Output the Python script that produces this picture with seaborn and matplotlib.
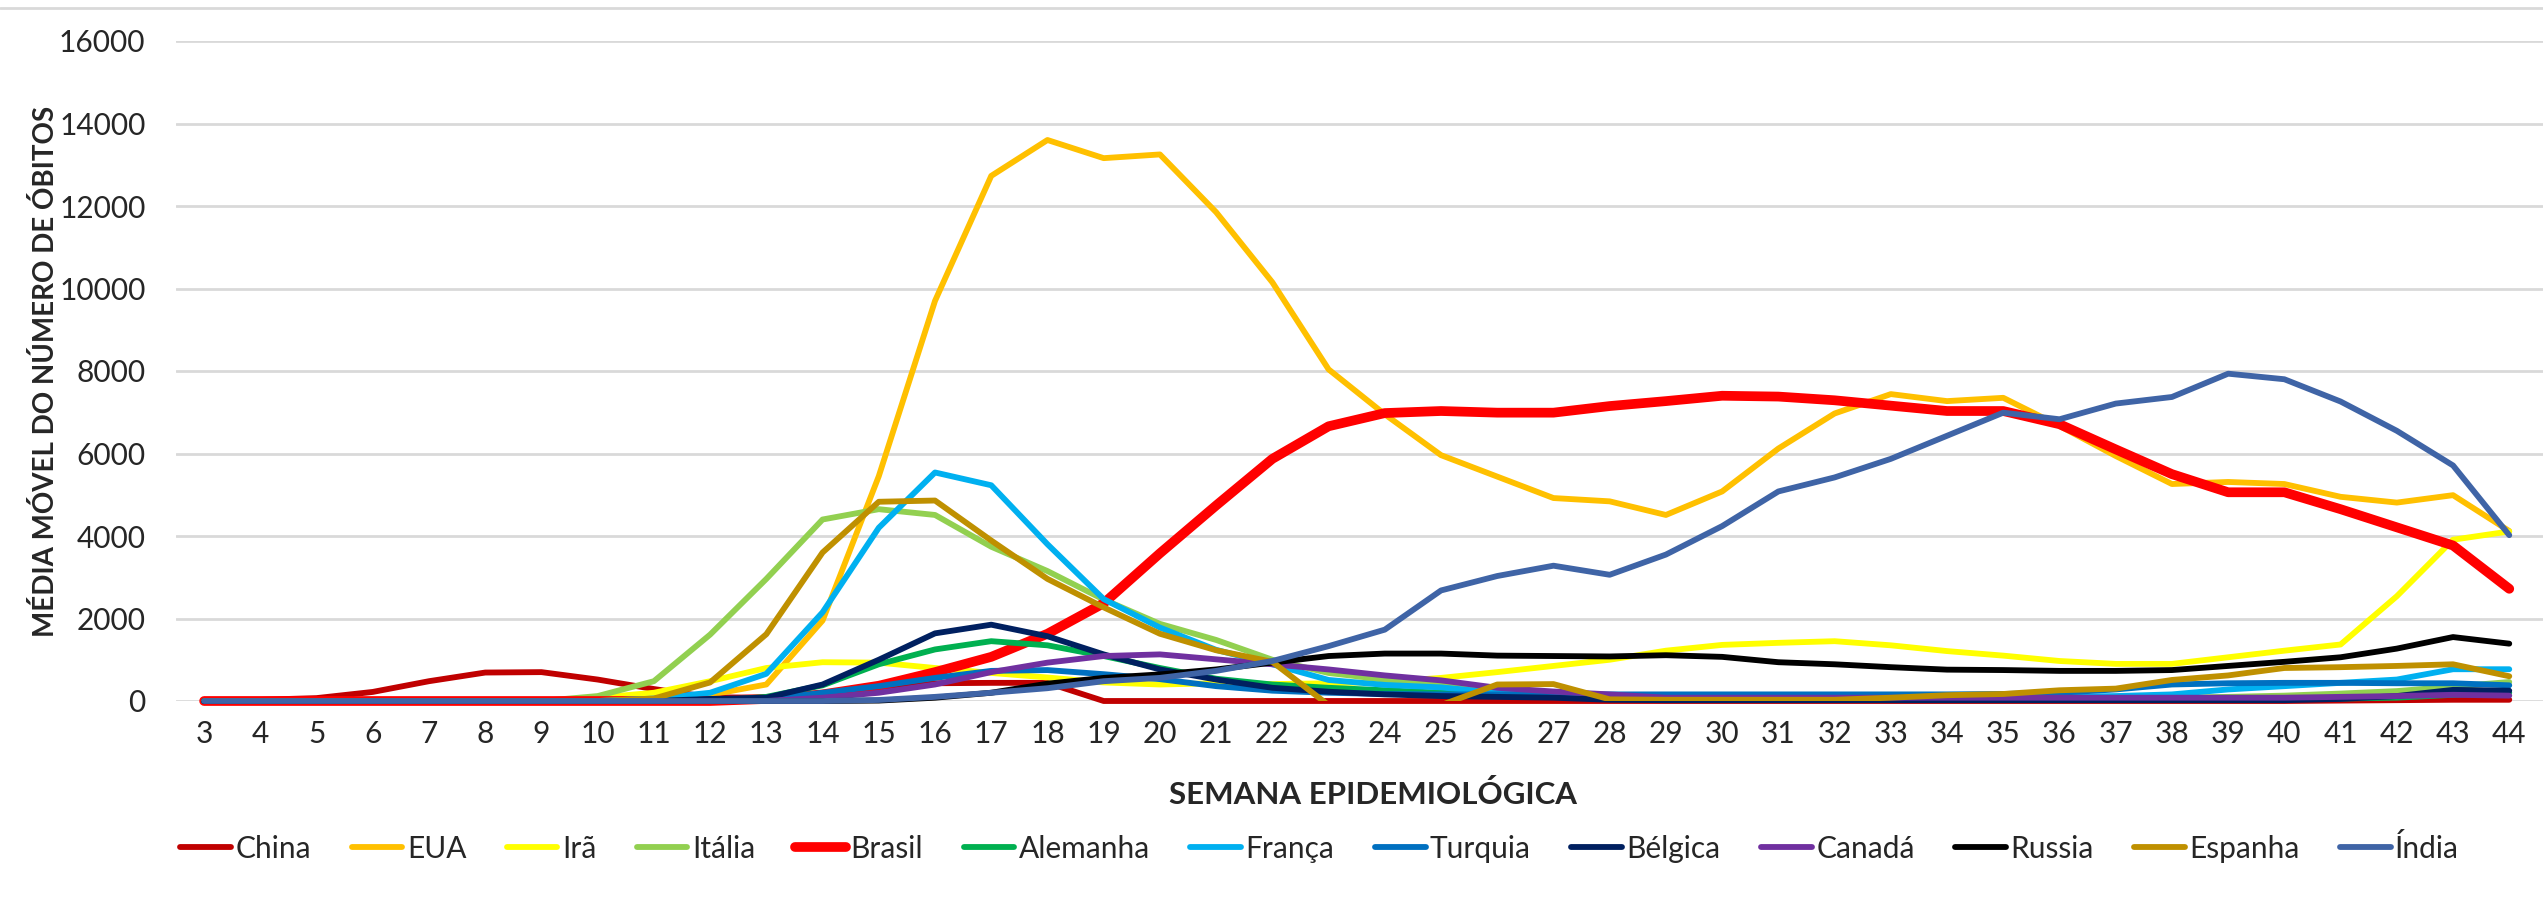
import matplotlib
matplotlib.use("Agg")
import matplotlib.pyplot as plt
from matplotlib.lines import Line2D
import pandas as pd
import seaborn as sns

# Semanas epidemiológicas (3 a 44)
semanas = list(range(3, 45))

china = [30, 30, 70, 220, 480, 690, 700, 520, 290, 90, 80, 150, 280, 430, 440, 440,
         0, 0, 0, 0, 0, 0, 0, 0, 0, 0, 0, 0, 0, 0, 0, 0, 0, 0, 0, 0, 0, 0, 10, 20, 30, 30]
eua = [0, 0, 0, 0, 0, 0, 0, 0, 60, 150, 400, 1950, 5450, 9700, 12730, 13600, 13160,
       13250, 11850, 10150, 8040, 6950, 5960, 5440, 4920, 4840, 4510, 5080, 6120, 6970,
       7440, 7270, 7350, 6670, 5940, 5260, 5310, 5260, 4950, 4810, 4990, 4120]
ira = [0, 0, 0, 0, 0, 0, 0, 80, 200, 480, 800, 940, 930, 800, 680, 570, 450, 400, 430,
       410, 430, 460, 560, 700, 850, 1000, 1220, 1360, 1410, 1450, 1350, 1210, 1100, 970,
       900, 900, 1060, 1220, 1370, 2540, 3910, 4110]
italia = [0, 0, 0, 0, 0, 0, 0, 120, 480, 1610, 2960, 4400, 4650, 4510, 3740, 3150, 2460,
          1870, 1480, 1000, 680, 520, 400, 220, 120, 70, 60, 60, 60, 60, 60, 60, 60, 60,
          60, 80, 100, 130, 180, 240, 350, 460]
brasil = [0, 0, 0, 0, 0, 0, 0, 0, 0, 0, 50, 160, 370, 700, 1070, 1630, 2370, 3580, 4740,
          5870, 6660, 6980, 7030, 6990, 6990, 7150, 7270, 7400, 7380, 7290, 7160, 7030,
          7030, 6710, 6100, 5500, 5060, 5060, 4650, 4210, 3770, 2720]
alemanha = [0, 0, 0, 0, 0, 0, 0, 0, 0, 0, 100, 380, 890, 1250, 1450, 1350, 1090, 800, 540,
            400, 320, 260, 200, 140, 110, 90, 60, 60, 60, 60, 60, 60, 60, 60, 60, 60, 50,
            50, 60, 80, 150, 200]
franca = [0, 0, 0, 0, 0, 0, 0, 0, 60, 200, 660, 2150, 4200, 5540, 5230, 3800, 2470, 1780,
          1240, 890, 510, 390, 330, 200, 140, 110, 100, 100, 100, 100, 100, 100, 100, 100,
          120, 160, 280, 360, 440, 520, 770, 770]
turquia = [0, 0, 0, 0, 0, 0, 0, 0, 0, 0, 40, 200, 360, 560, 730, 750, 650, 530, 360, 250,
           200, 170, 160, 160, 160, 160, 160, 160, 160, 160, 160, 160, 170, 200, 280, 400,
           430, 440, 440, 430, 430, 380]
belgica = [0, 0, 0, 0, 0, 0, 0, 0, 0, 50, 80, 400, 1000, 1640, 1850, 1570, 1130, 765, 520,
           320, 225, 160, 120, 100, 80, 30, 20, 20, 20, 20, 20, 20, 20, 20, 20, 20, 20, 20,
           50, 120, 270, 250]
canada = [0, 0, 0, 0, 0, 0, 0, 0, 0, 0, 0, 80, 200, 400, 700, 930, 1090, 1130, 1010, 890,
          765, 620, 500, 320, 230, 160, 80, 80, 80, 80, 80, 80, 80, 80, 80, 80, 80, 80, 100,
          120, 150, 130]
russia = [0, 0, 0, 0, 0, 0, 0, 0, 0, 0, 0, 0, 10, 80, 200, 420, 560, 645, 765, 930, 1090,
          1150, 1150, 1100, 1090, 1080, 1110, 1070, 940, 890, 820, 760, 750, 730, 730, 750,
          850, 950, 1060, 1270, 1550, 1390]
espanha = [0, 0, 0, 0, 0, 0, 0, 0, 60, 450, 1620, 3600, 4830, 4860, 3890, 2960, 2270, 1630,
           1230, 950, -100, -300, -100, 400, 410, 40, 30, 30, 30, 30, 80, 140, 170, 260, 300,
           510, 620, 800, 820, 850, 890, 600]
india = [0, 0, 0, 0, 0, 0, 0, 0, 0, 0, 0, 0, 25, 100, 200, 310, 480, 560, 730, 970, 1330,
         1730, 2680, 3030, 3280, 3060, 3550, 4240, 5080, 5420, 5870, 6430, 6990, 6830, 7210,
         7370, 7935, 7800, 7260, 6550, 5710, 4020]

paises = ["China", "EUA", "Irã", "Itália", "Brasil", "Alemanha", "França", "Turquia",
          "Bélgica", "Canadá", "Russia", "Espanha", "Índia"]
valores = [china, eua, ira, italia, brasil, alemanha, franca, turquia, belgica, canada,
           russia, espanha, india]
cores = ["#C00000", "#FFC000", "#FFFF00", "#92D050", "#FF0000", "#00B050", "#00B0F0",
         "#0070C0", "#002060", "#7030A0", "#000000", "#BF9000", "#3F64A6"]

df = pd.DataFrame(
    [(p, s, v) for p, vals in zip(paises, valores) for s, v in zip(semanas, vals)],
    columns=["País", "Semana", "Óbitos"],
)

sns.set_style("white")
plt.rcParams["font.family"] = ["Lato", "DejaVu Sans"]

fig = plt.figure(figsize=(25.43, 9.06), dpi=100)
ax = fig.add_axes([176 / 2543, 1 - 701 / 906, 1 - 176 / 2543, (701 - 41) / 906])

for pais, cor in zip(paises, cores):
    sub = df[df["País"] == pais]
    sns.lineplot(data=sub, x="Semana", y="Óbitos", color=cor, ax=ax, label=pais,
                 linewidth=7 if pais == "Brasil" else 4.2, legend=False)

# Excel-like: linhas em zero não são cortadas, só a Espanha (valores negativos)
for line, pais in zip(ax.get_lines(), paises):
    line.set_clip_on(pais == "Espanha")
    line.set_solid_capstyle("round")

ax.set_xlim(2.5, 44.6)
ax.set_ylim(0, 16000)
ax.set_xticks(semanas)
ax.set_yticks(range(0, 16001, 2000))
ax.tick_params(axis="both", labelsize=21.5, colors="#262626", length=0)
ax.tick_params(axis="x", pad=14)
ax.tick_params(axis="y", pad=22)
ax.grid(axis="y", color="#D9D9D9", linewidth=2)
ax.set_axisbelow(True)
for s in ax.spines.values():
    s.set_visible(False)
ax.set_xlabel("")
ax.set_ylabel("")

fig.text(0.018, 0.59, "MÉDIA MÓVEL DO NÚMERO DE ÓBITOS", rotation=90, ha="center",
         va="center", fontsize=20, fontweight="bold", color="#262626")
fig.text(0.54, 0.123, "SEMANA EPIDEMIOLÓGICA", ha="center", va="center", fontsize=22.5,
         fontweight="bold", color="#262626")

handles = [Line2D([0], [0], color=c, lw=7 if p == "Brasil" else 4.2) for p, c in zip(paises, cores)]
fig.legend(handles, paises, loc="center", bbox_to_anchor=(0.519, 0.064), ncol=13,
           frameon=False, fontsize=21.5, handlelength=1.7, handletextpad=0.15,
           columnspacing=1.35, labelcolor="#262626")

fig.add_artist(Line2D([0, 1], [0.991, 0.991], color="#D9D9D9", lw=2))

fig.savefig("out.png", dpi=100)
